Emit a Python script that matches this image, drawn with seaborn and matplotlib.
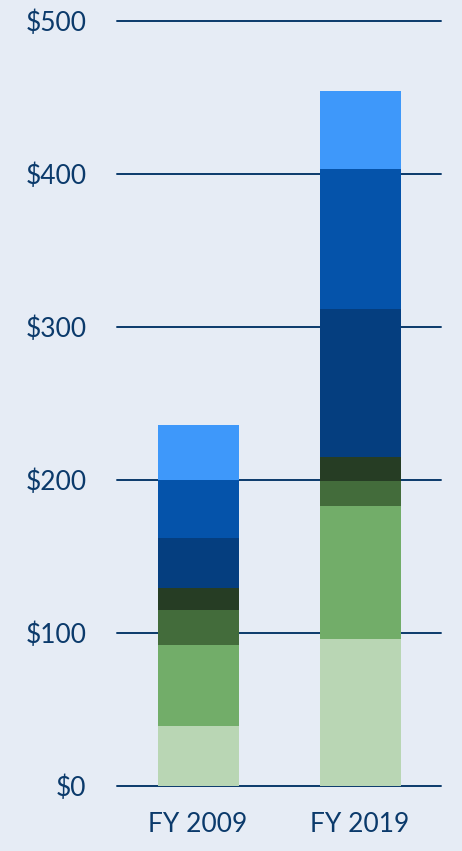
import numpy as np
import pandas as pd
import matplotlib
matplotlib.use('Agg')
import matplotlib.pyplot as plt
import seaborn as sns

# Data (segments bottom -> top)
years = ['FY 2009', 'FY 2019']
seg1 = [39, 96]
seg2 = [53, 87]
seg3 = [23, 16]
seg4 = [14, 16]
seg5 = [33, 97]
seg6 = [38, 91]
seg7 = [36, 51]

colors = ['#B9D6B4', '#72AD69', '#436C3B', '#263D24', '#053E7F', '#0553AA', '#3E98FA']
bg = '#E6ECF5'
navy = '#0B3A6B'

segments = np.array([seg1, seg2, seg3, seg4, seg5, seg6, seg7])
tops = segments.cumsum(axis=0)

sns.set_style('white')
plt.rcParams['font.family'] = ['Lato', 'DejaVu Sans']

fig = plt.figure(figsize=(4.62, 8.51), dpi=100, facecolor=bg)
ax = fig.add_axes([117 / 462, 1 - 785.7 / 851, 324 / 462, (785.7 - 21) / 851])
ax.set_facecolor(bg)

# draw stacked bars from the top layer down, each covering the one above
for i in range(len(segments) - 1, -1, -1):
    df = pd.DataFrame({'year': years, 'value': tops[i]})
    sns.barplot(data=df, x='year', y='value', color=colors[i], width=0.5,
                saturation=1, ax=ax, zorder=2, linewidth=0)

ax.set_ylim(0, 500)
ax.set_xlim(-0.5, 1.5)
ax.set_yticks([0, 100, 200, 300, 400, 500])
ax.set_yticklabels(['$0', '$100', '$200', '$300', '$400', '$500'])
ax.grid(axis='y', color=navy, linewidth=1.4)
ax.grid(axis='x', visible=False)
ax.set_axisbelow(True)
for s in ax.spines.values():
    s.set_visible(False)
ax.set_xlabel('')
ax.set_ylabel('')
ax.tick_params(axis='y', length=0, pad=22, labelsize=19, labelcolor=navy)
ax.tick_params(axis='x', length=0, pad=19, labelsize=19, labelcolor=navy)
for lbl in ax.get_yticklabels():
    lbl.set_clip_on(False)
for line in ax.get_ygridlines():
    line.set_clip_on(False)

fig.savefig('out.png', dpi=100, facecolor=bg)
